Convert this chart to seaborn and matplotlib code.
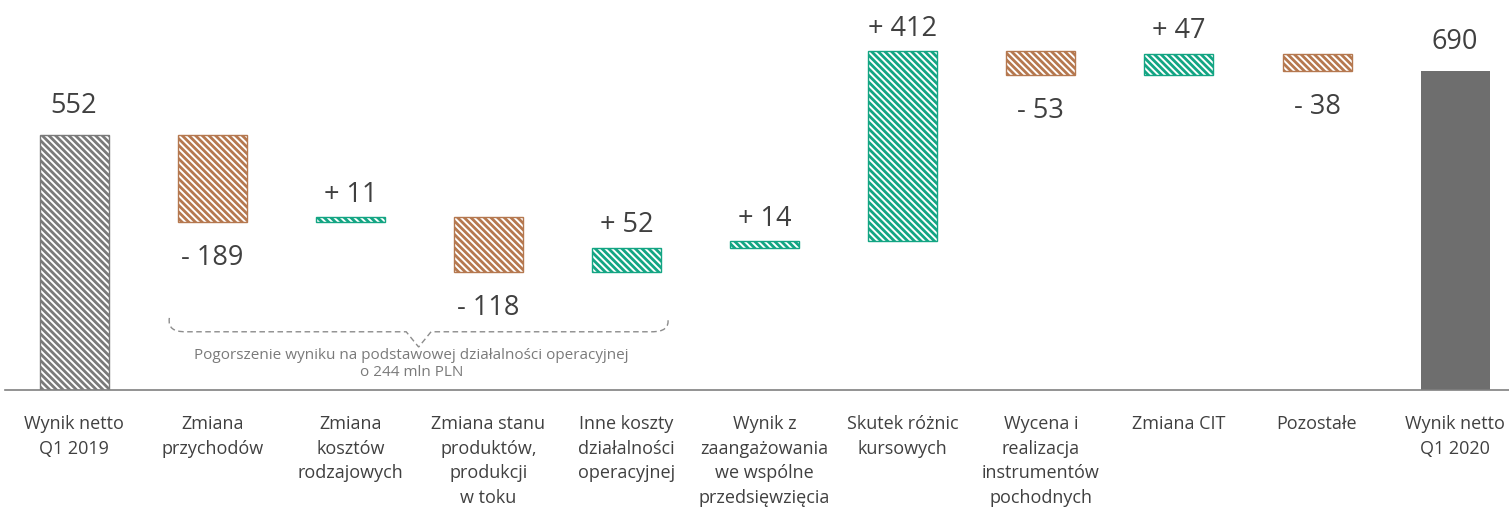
import numpy as np
import pandas as pd
import matplotlib
matplotlib.use("Agg")
import matplotlib.pyplot as plt
import seaborn as sns
from matplotlib.path import Path
from matplotlib.patches import PathPatch

# ---------------- data ----------------
categories = [
    "Wynik netto\nQ1 2019",
    "Zmiana\nprzychodów",
    "Zmiana\nkosztów\nrodzajowych",
    "Zmiana stanu\nproduktów,\nprodukcji\nw toku",
    "Inne koszty\ndziałalności\noperacyjnej",
    "Wynik z\nzaangażowania\nwe wspólne\nprzedsięwzięcia",
    "Skutek różnic\nkursowych",
    "Wycena i\nrealizacja\ninstrumentów\npochodnych",
    "Zmiana CIT",
    "Pozostałe",
    "Wynik netto\nQ1 2020",
]
values = [552, -189, 11, -118, 52, 14, 412, -53, 47, -38, 690]
kinds = ["start", "change", "change", "change", "change", "change",
         "change", "change", "change", "change", "end"]
brace_text = "Pogorszenie wyniku na podstawowej działalności operacyjnej\no 244 mln PLN"
brace_span = (1, 4)  # categories covered by the brace

# ---------------- styling ----------------
sns.set_theme(style="white")
plt.rcParams["font.family"] = ["Open Sans", "DejaVu Sans"]
plt.rcParams["hatch.linewidth"] = 2.0

TEXT = "#404040"
GRAY_H = "#7a7a7a"
BROWN = "#b5784f"
GREEN = "#13a583"
DARK = "#6e6e6e"
HATCH = "\\" * 5

# waterfall geometry from values
heights, bottoms, tops = [], [], []
running = 0
for v, k in zip(values, kinds):
    if k == "change":
        lo, hi = min(running, running + v), max(running, running + v)
        running += v
    else:
        lo, hi = 0, v
        running = v
    bottoms.append(lo)
    heights.append(hi - lo)
    tops.append(hi)

df = pd.DataFrame({"cat": categories, "h": heights})

fig = plt.figure(figsize=(15.09, 5.09), dpi=100)
ax = fig.add_axes([5 / 1509, 119 / 509, 1504 / 1509, 390 / 509])

sns.barplot(data=df, x="cat", y="h", bottom=bottoms, width=0.5,
            color="white", ax=ax, errorbar=None)

for p, v, k in zip(ax.patches, values, kinds):
    p.set_facecolor("white")
    p.set_linewidth(1.0)
    if k == "start":
        p.set_edgecolor(GRAY_H)
        p.set_hatch(HATCH)
    elif k == "end":
        p.set_facecolor(DARK)
        p.set_edgecolor(DARK)
        p.set_linewidth(0)
    else:
        p.set_edgecolor(GREEN if v > 0 else BROWN)
        p.set_hatch(HATCH)

# value labels
for i, (v, k) in enumerate(zip(values, kinds)):
    if k != "change":
        txt, y, off = f"{v}", tops[i], 21
    elif v > 0:
        txt, y, off = f"+ {v}", tops[i], 16
    else:
        txt, y, off = f"- {abs(v)}", bottoms[i], -26
    ax.annotate(txt, (i, y), xytext=(0, off), textcoords="offset points",
                ha="center", va="center", fontsize=19.5, color=TEXT)

# dashed curly brace
x0, x1 = brace_span[0] - 0.31, brace_span[1] + 0.30
xm = (x0 + x1) / 2 + 0.0
ytop, ymid, ytip = 156, 126, 93
verts = [
    (x0, ytop), (x0 - 0.01, ymid + 8), (x0 + 0.03, ymid), (x0 + 0.12, ymid),
    (xm - 0.09, ymid),
    (xm, ytip),
    (xm + 0.09, ymid),
    (x1 - 0.12, ymid),
    (x1 - 0.03, ymid), (x1 + 0.01, ymid + 8), (x1, ytop),
]
codes = [Path.MOVETO, Path.CURVE4, Path.CURVE4, Path.CURVE4,
         Path.LINETO, Path.LINETO, Path.LINETO, Path.LINETO,
         Path.CURVE4, Path.CURVE4, Path.CURVE4]
ax.add_patch(PathPatch(Path(verts, codes), fill=False, edgecolor="#8c8c8c",
                       linewidth=1.0, linestyle=(0, (4, 2.5))))
ax.text(xm - 0.05, 56, brace_text, ha="center", va="center", fontsize=11,
        color="#7a7a7a", linespacing=1.25)

ax.set_xlim(-0.5, 10.39)
ax.set_ylim(0, 844)
ax.set_xlabel("")
ax.set_ylabel("")
ax.set_yticks([])
for s in ["top", "right", "left"]:
    ax.spines[s].set_visible(False)
ax.spines["bottom"].set_color("#808080")
ax.spines["bottom"].set_linewidth(1.2)
ax.tick_params(axis="x", length=0, pad=18, labelsize=13, labelcolor=TEXT)
for t in ax.get_xticklabels():
    t.set_linespacing(1.47)
    t.set_va("top")

fig.savefig("out.png", dpi=100)
